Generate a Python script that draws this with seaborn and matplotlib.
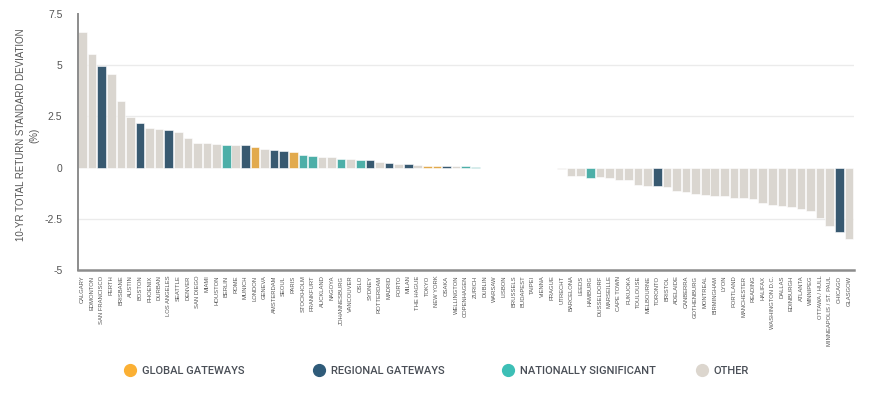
import matplotlib
matplotlib.use("Agg")
import matplotlib.pyplot as plt
import seaborn as sns
import pandas as pd
from matplotlib.lines import Line2D

cities = ["CALGARY", "EDMONTON", "SAN FRANCISCO", "PERTH", "BRISBANE", "AUSTIN", "BOSTON",
          "PHOENIX", "DURBAN", "LOS ANGELES", "SEATTLE", "DENVER", "SAN DIEGO", "MIAMI",
          "HOUSTON", "BERLIN", "ROME", "MUNICH", "LONDON", "GENEVA", "AMSTERDAM", "SEOUL",
          "PARIS", "STOCKHOLM", "FRANKFURT", "AUCKLAND", "NAGOYA", "JOHANNESBURG", "VANCOUVER",
          "OSLO", "SYDNEY", "ROTTERDAM", "MADRID", "PORTO", "MILAN", "THE HAGUE", "TOKYO",
          "NEW YORK", "OSAKA", "WELLINGTON", "COPENHAGEN", "ZURICH", "DUBLIN", "WARSAW",
          "LISBON", "BRUSSELS", "BUDAPEST", "TAIPEI", "VIENNA", "PRAGUE", "UTRECHT",
          "BARCELONA", "LEEDS", "HAMBURG", "DUSSELDORF", "MARSEILLE", "CAPE TOWN", "FUKUOKA",
          "TOULOUSE", "MELBOURNE", "TORONTO", "BRISTOL", "ADELAIDE", "CANBERRA", "GOTHENBURG",
          "MONTREAL", "BIRMINGHAM", "LYON", "PORTLAND", "MANCHESTER", "READING", "HALIFAX",
          "WASHINGTON D.C.", "DALLAS", "EDINBURGH", "ATLANTA", "WINNIPEG", "OTTAWA / HULL",
          "MINNEAPOLIS / ST. PAUL", "CHICAGO", "GLASGOW"]

values = [6.64, 5.55, 4.98, 4.58, 3.25, 2.48, 2.17,
          1.93, 1.88, 1.83, 1.75, 1.46, 1.21, 1.21,
          1.17, 1.12, 1.12, 1.08, 1.00, 0.92, 0.87, 0.83,
          0.74, 0.62, 0.58, 0.53, 0.50, 0.44, 0.44,
          0.36, 0.37, 0.28, 0.23, 0.19, 0.18, 0.13, 0.08,
          0.08, 0.09, 0.08, 0.08, 0.05, 0.0, 0.0,
          0.0, 0.0, -0.03, -0.03, -0.03, 0.0, -0.06,
          -0.42, -0.42, -0.49, -0.45, -0.53, -0.61, -0.61,
          -0.86, -0.89, -0.89, -0.94, -1.15, -1.18, -1.29,
          -1.34, -1.39, -1.39, -1.47, -1.47, -1.55, -1.75,
          -1.84, -1.88, -1.94, -2.02, -2.12, -2.44,
          -2.85, -3.16, -3.50]

G, R, N, O = "GLOBAL GATEWAYS", "REGIONAL GATEWAYS", "NATIONALLY SIGNIFICANT", "OTHER"
groups = [O, O, R, O, O, O, R,
          O, O, R, O, O, O, O,
          O, N, O, R, G, O, R, R,
          G, N, N, O, O, N, O,
          N, R, O, R, O, R, O, G,
          G, R, O, N, N, O, O,
          O, O, O, O, O, O, O,
          O, O, N, O, O, O, O,
          O, O, R, O, O, O, O,
          O, O, O, O, O, O, O,
          O, O, O, O, O, O,
          O, R, O]

legend_labels = [G, R, N, O]
palette = {G: "#FBB034", R: "#2F5B79", N: "#3DBFB6", O: "#DCD6CE"}

df = pd.DataFrame({"city": cities, "value": values, "group": groups})

sns.set_theme(style="white")
plt.rcParams["font.family"] = ["Liberation Sans", "DejaVu Sans"]

fig = plt.figure(figsize=(8.7, 3.93), dpi=100)
ax = fig.add_axes([77.7 / 870, 1 - 270 / 393, 776 / 870, 256 / 393])

for yv in [-2.5, 2.5, 5]:
    ax.axhline(yv, color="#ebebeb", lw=1.0, zorder=0)

sns.barplot(data=df, x="city", y="value", hue="group", palette=palette, order=cities,
            dodge=False, width=0.9, edgecolor="white", linewidth=0.4, legend=False,
            ax=ax, zorder=2)

ax.set_xlim(-0.5, len(cities) - 0.5)
ax.set_ylim(-5, 7.5)
ax.set_yticks([-5, -2.5, 0, 2.5, 5, 7.5])
ax.set_yticklabels(["-5", "-2.5", "0", "2.5", "5", "7.5"])
ax.tick_params(axis="y", length=0, pad=11, labelsize=7.5, labelcolor="#555555")
ax.tick_params(axis="x", length=0, pad=4, labelsize=4.2, labelcolor="#555555")
ax.set_xticks(range(len(cities)))
ax.set_xticklabels(cities, rotation=90, va="top", ha="center",
                   family=["Liberation Sans Narrow", "Liberation Sans", "DejaVu Sans"])
ax.set_xlabel("")
ax.set_ylabel("10-YR TOTAL RETURN STANDARD DEVIATION\n(%)", fontsize=7, color="#555555",
              linespacing=1.4)
ax.yaxis.set_label_coords(-0.050, 0.527)

for s in ["top", "right"]:
    ax.spines[s].set_visible(False)
ax.spines["left"].set_color("#8c8c8c")
ax.spines["left"].set_linewidth(1.4)
ax.spines["bottom"].set_color("#8c8c8c")
ax.spines["bottom"].set_linewidth(1.8)

leg_x = [124, 313, 502, 696]
for lab, lx in zip(legend_labels, leg_x):
    h = Line2D([0], [0], marker="o", linestyle="none", markersize=8.5,
               markerfacecolor=palette[lab], markeredgecolor=palette[lab])
    lg = fig.legend([h], [lab], loc="center left", bbox_to_anchor=(lx / 870, 1 - 371 / 393),
                    frameon=False, handlelength=1.0, handletextpad=0.6, borderpad=0,
                    borderaxespad=0, prop={"family": "Roboto", "weight": "medium", "size": 8})
    for t in lg.get_texts():
        t.set_color("#4a4f57")

fig.savefig("out.png", dpi=100)
